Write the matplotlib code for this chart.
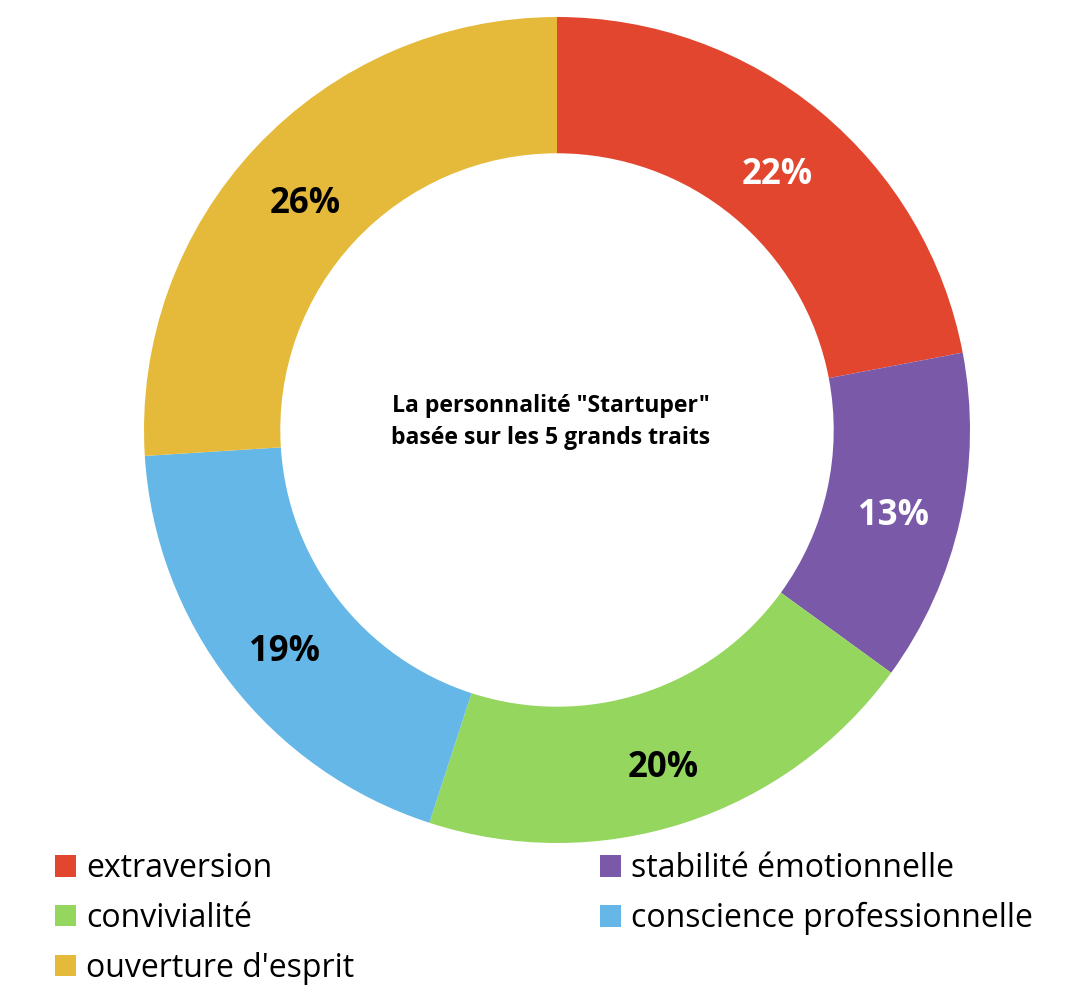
import matplotlib.pyplot as plt
from matplotlib.patches import Patch

labels = ['extraversion', 'stabilité émotionnelle', 'convivialité',
          'conscience professionnelle', "ouverture d'esprit"]
values = [22, 13, 20, 19, 26]
colors = ['#E2462E', '#7A59A8', '#94D65E', '#64B7E6', '#E5BA3A']
pct_colors = ['white', 'white', 'black', 'black', 'black']

plt.rcParams['font.family'] = ['Open Sans', 'DejaVu Sans']

fig = plt.figure(figsize=(10.92, 9.99), dpi=100)
ax = fig.add_axes([144 / 1092, 156 / 999, 826 / 1092, 826 / 999])

wedges, texts, autotexts = ax.pie(
    values, colors=colors, startangle=90, counterclock=False,
    radius=1.0, wedgeprops=dict(width=0.33, linewidth=0),
    autopct='%.0f%%', pctdistance=0.835)
for t, c in zip(autotexts, pct_colors):
    x, y = t.get_position()
    t.set_position((x, y - 0.025))
    t.set_color(c)
    t.set_fontsize(25)
    t.set_fontweight('bold')

ax.text(-0.015, 0.02, 'La personnalité "Startuper"\nbasée sur les 5 grands traits',
        ha='center', va='center', fontsize=16.6, fontweight='bold',
        linespacing=1.45)
ax.set_xlim(-1, 1)
ax.set_ylim(-1, 1)
ax.set_aspect('equal')
ax.axis('off')

order = [0, 2, 4, 1, 3]
handles = [Patch(facecolor=colors[i], edgecolor='none') for i in order]
fig.legend(handles, [labels[i] for i in order], ncol=2,
           loc='upper left', bbox_to_anchor=(55 / 1092, 1 - 852 / 999),
           frameon=False, fontsize=23, handlelength=0.66, handleheight=0.66,
           handletextpad=0.31, columnspacing=7.7, labelspacing=0.53,
           borderaxespad=0, borderpad=0)

fig.savefig('out.png', dpi=100)
